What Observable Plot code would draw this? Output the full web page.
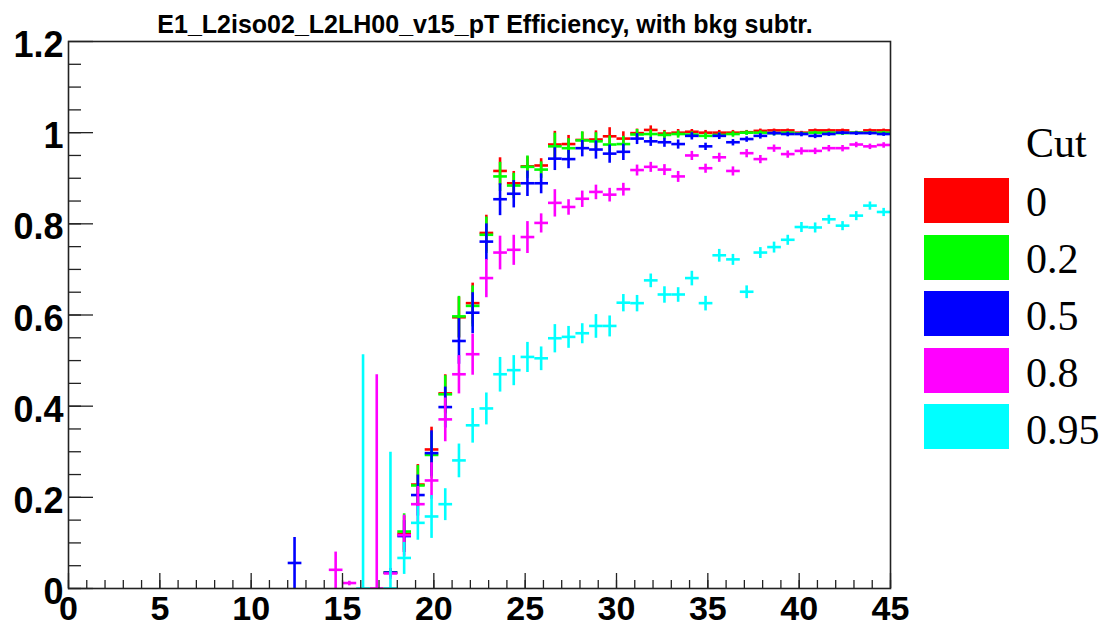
<!DOCTYPE html>
<html><head><meta charset="utf-8">
<script src="https://cdn.jsdelivr.net/npm/d3@7"></script>
<script src="https://cdn.jsdelivr.net/npm/@observablehq/plot@0.6"></script>
<style>
body{margin:0;background:#fff;}
#wrap{position:relative;width:1106px;height:627px;overflow:hidden;background:#fff;}
#title{position:absolute;left:0;top:12px;width:970px;text-align:center;font:bold 25px/25px "Liberation Sans",Arial,sans-serif;color:#000;white-space:nowrap;}
.lg-box{position:absolute;left:924px;width:85px;height:45px;}
.lg-txt{position:absolute;left:1026px;font:42px/42px "Liberation Serif","Times New Roman",serif;color:#000;white-space:nowrap;}
#plot{position:absolute;left:0;top:0;}
</style></head><body><div id="wrap"><div id="plot"></div><div id="title"></div></div>
<script>
const titleText = "E1_L2iso02_L2LH00_v15_pT Efficiency, with bkg subtr.";
const legendTitle = "Cut";
const cutLabels = ["0", "0.2", "0.5", "0.8", "0.95"];
const cutColors = ["#ff0000", "#00ff00", "#0000ff", "#ff00ff", "#00ffff"];
const binWidth = 0.75;

// bin centres (GeV)
const pT = [12.375, 13.125, 13.875, 14.625, 15.375, 16.125, 16.875, 17.625, 18.375, 19.125,
  19.875, 20.625, 21.375, 22.125, 22.875, 23.625, 24.375, 25.125, 25.875, 26.625,
  27.375, 28.125, 28.875, 29.625, 30.375, 31.125, 31.875, 32.625, 33.375, 34.125,
  34.875, 35.625, 36.375, 37.125, 37.875, 38.625, 39.375, 40.125, 40.875, 41.625,
  42.375, 43.125, 43.875, 44.625];

const N = null;
const eff00 = [N, N, N, N, N, N, N, 0.035, 0.12, 0.228, 0.305, 0.428, 0.595, 0.626, 0.78, 0.916, 0.889, 0.926, 0.928, 0.974, 0.975, 0.984, 0.985, 0.992, 0.987, 0.999, 1.006, 0.998, 1.0, 1.002, 1.0, 1.0, 1.0, 1.001, 1.004, 1.005, 1.005, 1.0, 1.005, 1.005, 1.005, 1.0, 1.005, 1.005];
const err00 = [N, N, N, N, N, N, N, 0.008, 0.04, 0.045, 0.05, 0.042, 0.045, 0.045, 0.04, 0.03, 0.027, 0.022, 0.016, 0.03, 0.02, 0.018, 0.02, 0.02, 0.016, 0.01, 0.01, 0.008, 0.008, 0.006, 0.006, 0.006, 0.006, 0.005, 0.005, 0.004, 0.004, 0.004, 0.004, 0.004, 0.004, 0.004, 0.004, 0.004];

const eff02 = [N, N, N, N, N, N, N, 0.035, 0.125, 0.226, 0.293, 0.426, 0.597, 0.62, 0.776, 0.904, 0.884, 0.925, 0.919, 0.970, 0.966, 0.983, 0.981, 0.974, 0.975, 0.996, 0.997, 0.995, 0.997, 0.996, 0.993, 0.995, 0.997, 1.0, 1.0, 0.999, 1.0, 0.998, 1.0, 1.0, 0.999, 1.0, 1.0, 1.0];
const err02 = [N, N, N, N, N, N, N, 0.01, 0.04, 0.045, 0.05, 0.042, 0.045, 0.045, 0.04, 0.032, 0.028, 0.025, 0.018, 0.03, 0.022, 0.02, 0.02, 0.02, 0.018, 0.012, 0.01, 0.008, 0.008, 0.007, 0.007, 0.006, 0.006, 0.005, 0.005, 0.005, 0.004, 0.004, 0.004, 0.004, 0.004, 0.004, 0.004, 0.004];

const eff05 = [0.056, N, N, N, N, N, N, 0.035, 0.115, 0.205, 0.297, 0.398, 0.543, 0.605, 0.761, 0.854, 0.866, 0.889, 0.889, 0.943, 0.942, 0.966, 0.963, 0.954, 0.958, 0.987, 0.981, 0.979, 0.975, 0.993, 0.970, 0.993, 0.979, 0.986, 0.993, 0.999, 0.997, 0.997, 0.993, 0.997, 1.0, 0.999, 0.999, 0.997];
const err05 = [0.057, N, N, N, N, N, N, 0.01, 0.035, 0.045, 0.05, 0.045, 0.05, 0.045, 0.04, 0.035, 0.03, 0.028, 0.022, 0.025, 0.02, 0.018, 0.02, 0.02, 0.018, 0.012, 0.01, 0.01, 0.01, 0.008, 0.008, 0.007, 0.007, 0.006, 0.006, 0.005, 0.005, 0.005, 0.005, 0.004, 0.004, 0.004, 0.004, 0.004];

const eff08 = [N, N, N, 0.041, 0.012, N, 0.0, 0.033, 0.117, 0.185, 0.237, 0.371, 0.47, 0.514, 0.681, 0.737, 0.743, 0.771, 0.802, 0.846, 0.837, 0.855, 0.870, 0.864, 0.876, 0.918, 0.925, 0.919, 0.904, 0.950, 0.922, 0.946, 0.916, 0.955, 0.942, 0.966, 0.953, 0.960, 0.960, 0.966, 0.966, 0.974, 0.970, 0.973];
const err08 = [N, N, N, 0.04, 0.005, N, 0.47, 0.012, 0.045, 0.04, 0.04, 0.048, 0.042, 0.045, 0.042, 0.037, 0.033, 0.035, 0.021, 0.03, 0.017, 0.018, 0.016, 0.015, 0.014, 0.012, 0.011, 0.012, 0.012, 0.01, 0.01, 0.01, 0.01, 0.009, 0.009, 0.008, 0.008, 0.008, 0.007, 0.007, 0.007, 0.006, 0.006, 0.006];

const eff095 = [N, N, N, N, N, 0.0, N, 0.0, 0.067, 0.144, 0.158, 0.185, 0.281, 0.358, 0.395, 0.470, 0.479, 0.508, 0.505, 0.549, 0.552, 0.560, 0.576, 0.576, 0.627, 0.626, 0.676, 0.645, 0.645, 0.681, 0.626, 0.731, 0.722, 0.651, 0.737, 0.749, 0.765, 0.793, 0.792, 0.810, 0.796, 0.818, 0.840, 0.826];
const err095 = [N, N, N, N, N, 0.514, N, 0.30, 0.035, 0.037, 0.047, 0.035, 0.037, 0.038, 0.035, 0.038, 0.033, 0.033, 0.026, 0.031, 0.024, 0.022, 0.026, 0.023, 0.019, 0.018, 0.015, 0.018, 0.016, 0.016, 0.016, 0.014, 0.012, 0.014, 0.012, 0.012, 0.011, 0.011, 0.011, 0.01, 0.01, 0.01, 0.009, 0.009];

const xMajorTicks = [0, 5, 10, 15, 20, 25, 30, 35, 40, 45];
const xMinorTicks = d3.range(0, 46, 1);
const yMajorTicks = [0, 0.2, 0.4, 0.6, 0.8, 1.0, 1.2];
const yTickLabels = ["0", "0.2", "0.4", "0.6", "0.8", "1", "1.2"];
const yMinorTicks = d3.range(0, 24).map(k => k * 0.05);

const seriesEff = [eff00, eff02, eff05, eff08, eff095];
const seriesErr = [err00, err02, err05, err08, err095];

// build error-bar segments, drawn series by series (ROOT drawing order)
const segs = [];
seriesEff.forEach((eff, s) => {
  eff.forEach((v, k) => {
    if (v == null) return;
    const e = seriesErr[s][k];
    const x = pT[k];
    segs.push({cut: cutLabels[s], x1: x - binWidth / 2, x2: x + binWidth / 2, y1: v, y2: v});
    segs.push({cut: cutLabels[s], x1: x, x2: x, y1: v - e, y2: v + e});
  });
});

const W = 1106, H = 627, mL = 68, mR = 216, mT = 41, mB = 39;
const fw = W - mL - mR, fh = H - mT - mB;
const axisColor = "#222";

const chart = Plot.plot({
  width: W, height: H,
  marginLeft: mL, marginRight: mR, marginTop: mT, marginBottom: mB,
  style: {fontFamily: "'Liberation Sans', Arial, sans-serif", background: "white", overflow: "visible"},
  x: {domain: [0, 45]},
  y: {domain: [0, 1.2]},
  color: {domain: cutLabels, range: cutColors},
  marks: [
    Plot.link(segs, {x1: "x1", x2: "x2", y1: "y1", y2: "y2", stroke: "cut", strokeWidth: 2.6, clip: true}),
    Plot.tickX(xMinorTicks, {x: d => d, insetTop: fh - 8, stroke: axisColor, strokeWidth: 1.3}),
    Plot.tickX(xMajorTicks, {x: d => d, insetTop: fh - 15, stroke: axisColor, strokeWidth: 1.3}),
    Plot.tickY(yMinorTicks, {y: d => d, insetRight: fw - 13, stroke: axisColor, strokeWidth: 1.3}),
    Plot.tickY(yMajorTicks, {y: d => d, insetRight: fw - 25, stroke: axisColor, strokeWidth: 1.3}),
    Plot.frame({stroke: axisColor, strokeWidth: 1.6}),
    Plot.axisX(xMajorTicks, {tickSize: 0, tickPadding: 7, fontSize: 34, fontWeight: "bold", fill: "#000", tickFormat: d => String(d)}),
    Plot.axisY(yMajorTicks, {tickSize: 0, tickPadding: 5, fontSize: 36, fontWeight: "bold", fill: "#000", dy: 4, tickFormat: d => yTickLabels[yMajorTicks.indexOf(d)]})
  ]
});
document.getElementById("plot").appendChild(chart);
document.getElementById("title").textContent = titleText;

const wrap = document.getElementById("wrap");
const lt = document.createElement("div");
lt.className = "lg-txt";
lt.style.top = "122px";
lt.textContent = legendTitle;
wrap.appendChild(lt);
cutLabels.forEach((lab, i) => {
  const b = document.createElement("div");
  b.className = "lg-box";
  b.style.top = (178 + 56.5 * i) + "px";
  b.style.background = cutColors[i];
  wrap.appendChild(b);
  const t = document.createElement("div");
  t.className = "lg-txt";
  t.style.top = (181 + 57 * i) + "px";
  t.textContent = lab;
  wrap.appendChild(t);
});
</script></body></html>
